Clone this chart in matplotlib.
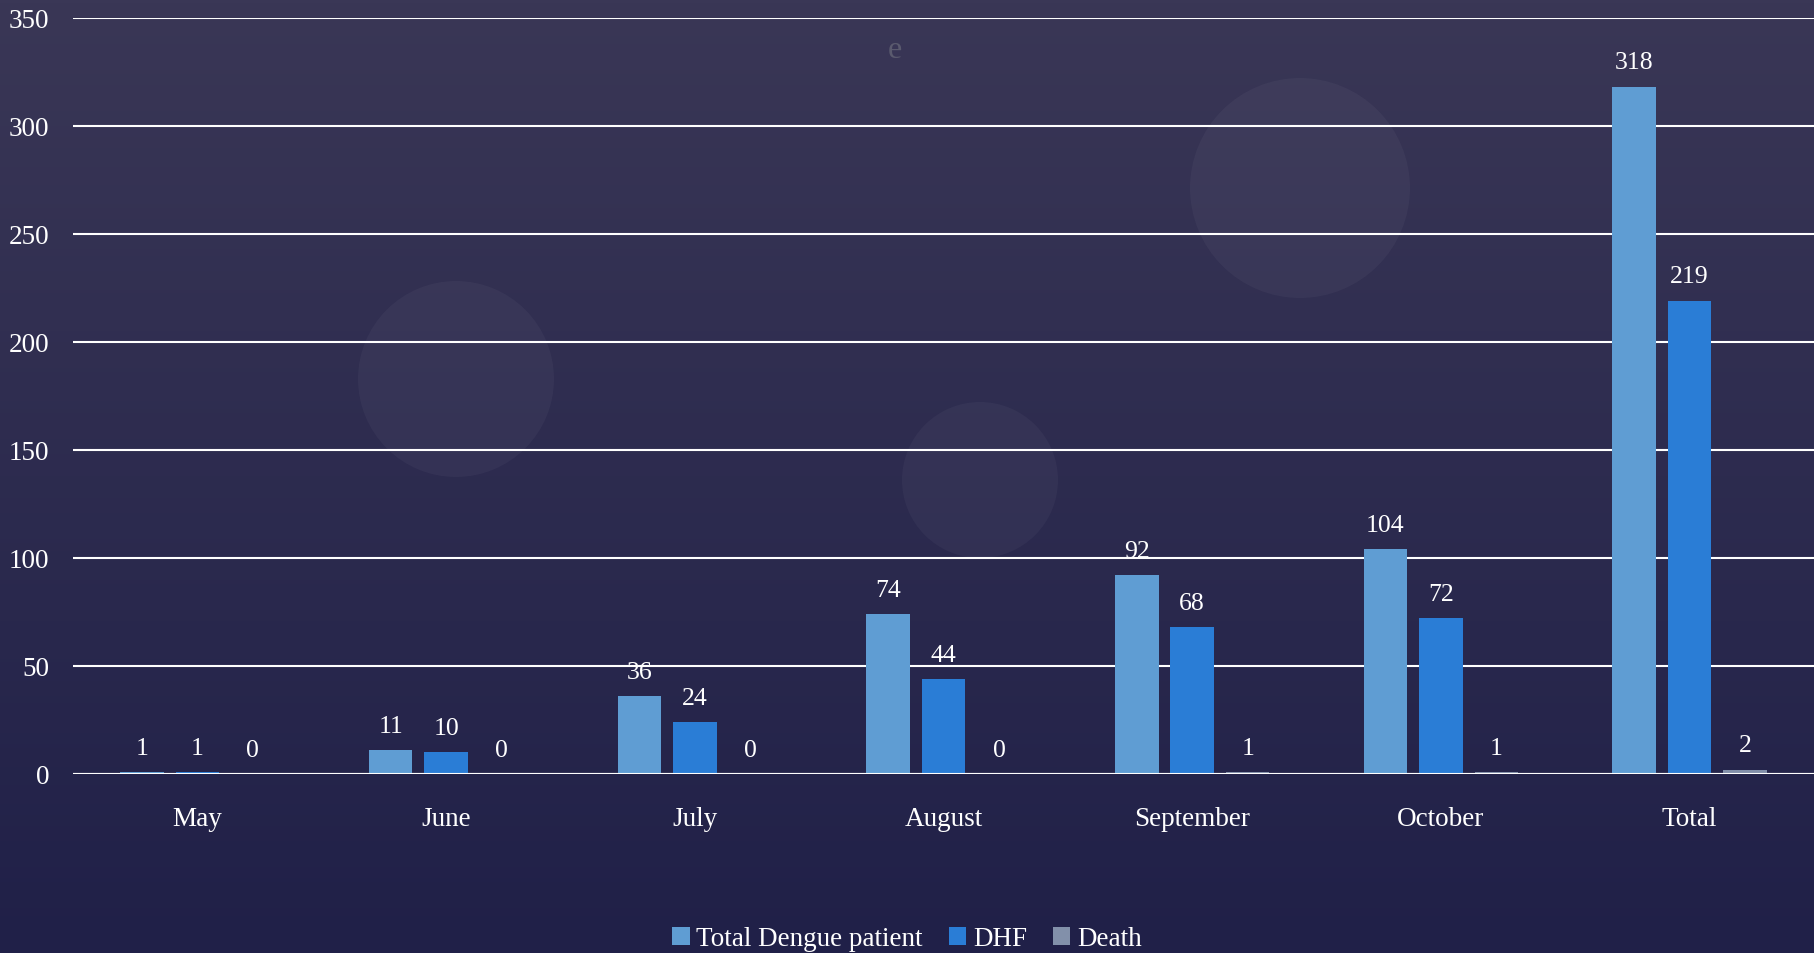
import numpy as np
import matplotlib
matplotlib.use("Agg")
import matplotlib.pyplot as plt
from matplotlib.patches import Patch, Ellipse

categories = ["May", "June", "July", "August", "September", "October", "Total"]
total_patients = [1, 11, 36, 74, 92, 104, 318]
dhf = [1, 10, 24, 44, 68, 72, 219]
death = [0, 0, 0, 0, 1, 1, 2]
series_names = ["Total Dengue patient", "DHF", "Death"]
colors = ["#5f9dd3", "#2a7dd6", "#8290aa"]
yticks = [0, 50, 100, 150, 200, 250, 300, 350]

plt.rcParams['font.family'] = ['Liberation Serif', 'DejaVu Serif']

fig = plt.figure(figsize=(18.14, 9.54), dpi=100)
W, H = 1814, 954

# background gradient
bg = fig.add_axes([0, 0, 1, 1], zorder=-10)
grad = np.linspace(0, 1, 256).reshape(-1, 1)
top = np.array([0x3a, 0x37, 0x56]) / 255
bot = np.array([0x20, 0x20, 0x48]) / 255
img = top[None, None, :] * (1 - grad[:, :, None]) + bot[None, None, :] * grad[:, :, None]
bg.imshow(img, aspect='auto', extent=[0, 1, 0, 1], origin='upper')
bg.set_xlim(0, 1); bg.set_ylim(0, 1)
bg.axis('off')
for cx, cy, r in [(1300, 189, 110), (456, 380, 98), (980, 481, 78)]:
    bg.add_patch(Ellipse((cx / W, 1 - cy / H), 2 * r / W, 2 * r / H,
                         facecolor='white', alpha=0.035, edgecolor='none'))
bg.text(895 / W, 1 - 51 / H, "e", color="#5a5a6e", fontsize=23,
        ha='center', va='center')

ax = fig.add_axes([73 / W, 1 - 775 / H, 1 - 73 / W, (775 - 18.5) / H])
ax.set_facecolor('none')
x = np.arange(len(categories))
width = 0.175
offsets = [-0.223, 0, 0.223]
for vals, name, c, off in zip([total_patients, dhf, death], series_names, colors, offsets):
    ax.bar(x + off, vals, width, color=c, label=name, zorder=3)
    for xi, v in zip(x, vals):
        ax.annotate(str(v), (xi + off, v), xytext=(0, 9.5), textcoords='offset points',
                    ha='center', va='bottom', color='white', fontsize=18.5)

ax.set_xlim(-0.5, len(categories) - 0.5)
ax.set_ylim(0, 350)
ax.set_yticks(yticks)
ax.set_yticklabels([str(t) for t in yticks])
ax.yaxis.grid(True, color='white', linewidth=1.5, zorder=1)
ax.set_axisbelow(True)
ax.set_xticks(x)
ax.set_xticklabels(categories)
ax.tick_params(axis='both', length=0, colors='white', labelsize=19.5)
ax.tick_params(axis='x', pad=23)
ax.tick_params(axis='y', pad=17)
for sp in ax.spines.values():
    sp.set_visible(False)
ax.axhline(0, color='white', linewidth=1.5, zorder=4)

handles = [Patch(facecolor=c, label=n) for c, n in zip(colors, series_names)]
fig.legend(handles=handles, loc='center', bbox_to_anchor=(0.5, 1 - 940 / H), ncol=3,
           frameon=False, fontsize=19.5, labelcolor='white', handlelength=0.65,
           handleheight=0.65, handletextpad=0.25, columnspacing=0.95)

fig.savefig("out.png", dpi=100)
